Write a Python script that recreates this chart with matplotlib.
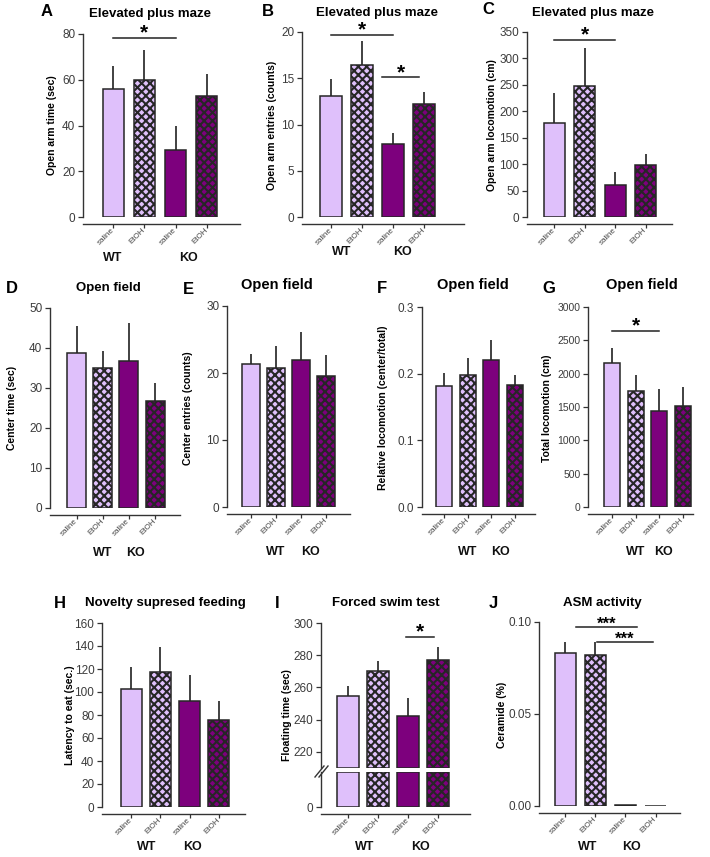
import numpy as np
import matplotlib.pyplot as plt
from matplotlib.lines import Line2D
from matplotlib.transforms import blended_transform_factory

plt.rcParams['font.family'] = ['Liberation Sans', 'DejaVu Sans']
plt.rcParams['hatch.linewidth'] = 1.5
plt.rcParams['hatch.color'] = '#1e1e1e'

# ---- data (means and upper SEM) ----
treat = ['saline', 'EtOH', 'saline', 'EtOH']

epm_time = [56, 60, 29.5, 53]
epm_time_err = [10, 13, 10.5, 9.5]
epm_entries = [13.1, 16.4, 7.9, 12.2]
epm_entries_err = [1.8, 2.6, 1.2, 1.3]
epm_loco = [178, 248, 60, 99]
epm_loco_err = [57, 72, 26, 21]

of_center_time = [38.7, 35.0, 36.8, 26.7]
of_center_time_err = [6.8, 4.3, 9.5, 4.5]
of_center_entries = [21.4, 20.8, 22.0, 19.6]
of_center_entries_err = [1.4, 3.3, 4.1, 3.1]
of_rel_loco = [0.182, 0.198, 0.220, 0.183]
of_rel_loco_err = [0.019, 0.025, 0.030, 0.015]
of_total_loco = [2160, 1745, 1445, 1520]
of_total_loco_err = [230, 240, 320, 275]

nsf_latency = [102.5, 117.5, 92, 75.5]
nsf_latency_err = [19.5, 22, 22.5, 16.5]
fst_floating = [254.5, 270, 242.5, 277]
fst_floating_err = [6.5, 6.5, 11, 8]
asm_ceramide = [0.083, 0.082, 0.0003, 0.0001]
asm_ceramide_err = [0.006, 0.007, 0, 0]

W, H = 710, 857
fig = plt.figure(figsize=(7.1, 8.57), dpi=100)

light = '#dfc0fb'
dark = '#7d007d'
edge = '#262626'
faces = [light, light, dark, dark]
hatches = ['', 'xxxx', '', 'xxxx']
x = np.arange(4)


def add_ax(l, r, t, b):
    return fig.add_axes([l / W, 1 - b / H, (r - l) / W, (b - t) / H])


def ftext(px, py, s, **kw):
    fig.text(px / W, 1 - py / H, s, **kw)


def style(ax, bottom=True):
    for s in ['top', 'right']:
        ax.spines[s].set_visible(False)
    for s in ['left', 'bottom']:
        ax.spines[s].set_color('#333333')
        ax.spines[s].set_linewidth(1.0)
    ax.spines['bottom'].set_position(('outward', 5))
    if not bottom:
        ax.spines['bottom'].set_visible(False)
        ax.tick_params(axis='x', bottom=False, labelbottom=False)
    ax.tick_params(axis='y', direction='out', length=3.5, width=0.9,
                   color='#333333', labelsize=8.5, labelcolor='#3c3c3c', pad=2)
    ax.tick_params(axis='x', direction='out', length=3, width=0.9,
                   color='#333333', pad=0.5)
    ax.patch.set_alpha(0)


def bars(ax, means, errs, lay, base=0, err=True):
    l, r, c0, sp, bw = lay
    ax.set_xlim((l - c0) / sp, (r - c0) / sp)
    means = np.array(means, dtype=float)
    rects = ax.bar(x, means - base, bottom=base, width=bw / sp, color=faces,
                   edgecolor=edge, linewidth=1.1, zorder=2)
    for p, h in zip(rects, hatches):
        p.set_hatch(h)
    if err:
        ax.errorbar(x, means, yerr=[np.zeros(4), errs], fmt='none',
                    ecolor='#333333', elinewidth=1.3, capsize=0, zorder=1)
    ax.set_xticks(x)
    ax.set_xticklabels(treat, rotation=45, ha='right', va='center',
                       rotation_mode='anchor', fontsize=5.8, color='#444444')


def groups(ax, wt, ko, py):
    tr = blended_transform_factory(ax.transData, fig.transFigure)
    for xx, s in [(wt, 'WT'), (ko, 'KO')]:
        ax.text(xx, 1 - py / H, s, transform=tr, ha='center', va='center',
                fontsize=9, fontweight='bold', color='#111111')


def sig(ax, x0, x1, y, star='*', fs=15):
    ax.plot([x0, x1], [y, y], color='#222222', lw=1.1, clip_on=False, zorder=3)
    ax.annotate(star, xy=((x0 + x1) / 2, y), xytext=(0, -3.5),
                textcoords='offset points', ha='center', va='bottom',
                fontsize=fs, fontweight='bold', annotation_clip=False)


def header(letter, lx, ly, title, tx, ty, tsize=9.5):
    ftext(lx, ly, letter, fontsize=12, fontweight='bold', ha='center', va='center')
    ftext(tx, ty, title, fontsize=tsize, fontweight='bold', ha='center', va='center')


def ylab(px, py, s):
    ftext(px, py, s, rotation=90, fontsize=7.5, fontweight='bold',
          ha='center', va='center')


# ---- A ----
ax = add_ax(83, 240, 34, 217)
style(ax)
bars(ax, epm_time, epm_time_err, (83, 240, 113, 31.3, 21))
ax.set_ylim(0, 80)
ax.set_yticks(np.arange(0, 81, 20))
sig(ax, 0, 2, 78.3)
groups(ax, 0.0, 2.4, 258)
header('A', 47, 12, 'Elevated plus maze', 150, 14)
ylab(52, 125, 'Open arm time (sec)')

# ---- B ----
ax = add_ax(302, 464, 32, 217)
style(ax)
bars(ax, epm_entries, epm_entries_err, (302, 464, 331, 31, 22))
ax.set_ylim(0, 20)
ax.set_yticks(np.arange(0, 21, 5))
sig(ax, 0, 2, 19.7)
sig(ax, 1.65, 2.84, 15.1)
groups(ax, 0.35, 2.3, 252)
header('B', 268, 11, 'Elevated plus maze', 377, 13)
ylab(272, 125, 'Open arm entries (counts)')

# ---- C ----
ax = add_ax(527, 672, 32, 217)
style(ax)
bars(ax, epm_loco, epm_loco_err, (527, 672, 554, 30.5, 21))
ax.set_ylim(0, 350)
ax.set_yticks(np.arange(0, 351, 50))
sig(ax, 0, 2, 335)
header('C', 488, 10, 'Elevated plus maze', 593, 13)
ylab(492, 125, 'Open arm locomotion (cm)')

# ---- D ----
ax = add_ax(50, 180, 308, 508)
style(ax)
bars(ax, of_center_time, of_center_time_err, (50, 180, 76.5, 26.2, 19))
ax.set_ylim(0, 50)
ax.set_yticks(np.arange(0, 51, 10))
groups(ax, 1.0, 2.25, 553)
header('D', 12, 288, 'Open field', 108, 288)
ylab(12, 408, 'Center time (sec)')

# ---- E ----
ax = add_ax(227, 350, 306, 507)
style(ax)
bars(ax, of_center_entries, of_center_entries_err, (227, 350, 251, 25, 18))
ax.set_ylim(0, 30)
ax.set_yticks(np.arange(0, 31, 10))
groups(ax, 1.0, 2.4, 552)
header('E', 188, 289, 'Open field', 277, 285, 10.5)
ylab(188, 408, 'Center entries (counts)')

# ---- F ----
ax = add_ax(422, 535, 307, 507)
style(ax)
bars(ax, of_rel_loco, of_rel_loco_err, (422, 535, 444, 23.7, 16))
ax.set_ylim(0, 0.3)
ax.set_yticks([0, 0.1, 0.2, 0.3])
ax.set_yticklabels(['0.0', '0.1', '0.2', '0.3'])
groups(ax, 1.0, 2.37, 552)
header('F', 382, 288, 'Open field', 473, 285, 10.5)
ylab(383, 408, 'Relative locomotion (center/total)')

# ---- G ----
ax = add_ax(588, 693, 307, 507)
style(ax)
bars(ax, of_total_loco, of_total_loco_err, (588, 693, 612, 23.5, 16))
ax.set_ylim(0, 3000)
ax.set_yticks(np.arange(0, 3001, 500))
ax.tick_params(axis='y', labelsize=7.5)
sig(ax, 0, 2, 2640)
groups(ax, 1.0, 2.2, 552)
header('G', 549, 288, 'Open field', 642, 285, 10.5)
ylab(547, 408, 'Total locomotion (cm)')

# ---- H ----
ax = add_ax(102, 245, 623, 807)
style(ax)
bars(ax, nsf_latency, nsf_latency_err, (102, 245, 131, 29.3, 21))
ax.set_ylim(0, 160)
ax.set_yticks(np.arange(0, 161, 20))
groups(ax, 0.55, 2.1, 847)
ftext(60, 603, 'H', fontsize=12, fontweight='bold', ha='center', va='center')
ftext(85, 603, 'Novelty supresed feeding', fontsize=9.5, fontweight='bold',
      ha='left', va='center')
ylab(70, 715, 'Latency to eat (sec.)')

# ---- I (broken axis) ----
lay_i = (321, 470, 348, 30, 22)
low_top = 10
ax_up = add_ax(321, 470, 623, 768)
style(ax_up, bottom=False)
bars(ax_up, fst_floating, fst_floating_err, lay_i, base=210)
ax_up.tick_params(axis='x', bottom=False, labelbottom=False)
ax_up.set_ylim(210, 300)
ax_up.set_yticks(np.arange(220, 301, 20))
sig(ax_up, 1.93, 2.87, 291.3)

ax_lo = add_ax(321, 470, 772, 807)
style(ax_lo)
bars(ax_lo, np.minimum(fst_floating, low_top), None, lay_i, err=False)
ax_lo.set_ylim(0, low_top)
ax_lo.set_yticks([0])
groups(ax_lo, 0.55, 2.43, 847)
for dx in (0, 4):
    fig.add_artist(Line2D([(315 + dx) / W, (324 + dx) / W],
                          [1 - 777 / H, 1 - 766 / H],
                          transform=fig.transFigure, color='#333333', lw=1.0))
header('I', 277, 603, 'Forced swim test', 386, 603)
ylab(287, 715, 'Floating time (sec)')

# ---- J ----
ax = add_ax(539, 680, 622, 806)
style(ax)
bars(ax, asm_ceramide, asm_ceramide_err, (539, 680, 565, 30.2, 21))
ax.set_ylim(0, 0.10)
ax.set_yticks([0, 0.05, 0.10])
ax.set_yticklabels(['0.00', '0.05', '0.10'])
sig(ax, 0.36, 2.38, 0.0973, '***', 12)
sig(ax, 1.06, 2.91, 0.089, '***', 12)
groups(ax, 0.75, 2.2, 847)
header('J', 493, 603, 'ASM activity', 602, 603)
ylab(502, 715, 'Ceramide (%)')

fig.savefig('out.png', dpi=100, facecolor='white')
